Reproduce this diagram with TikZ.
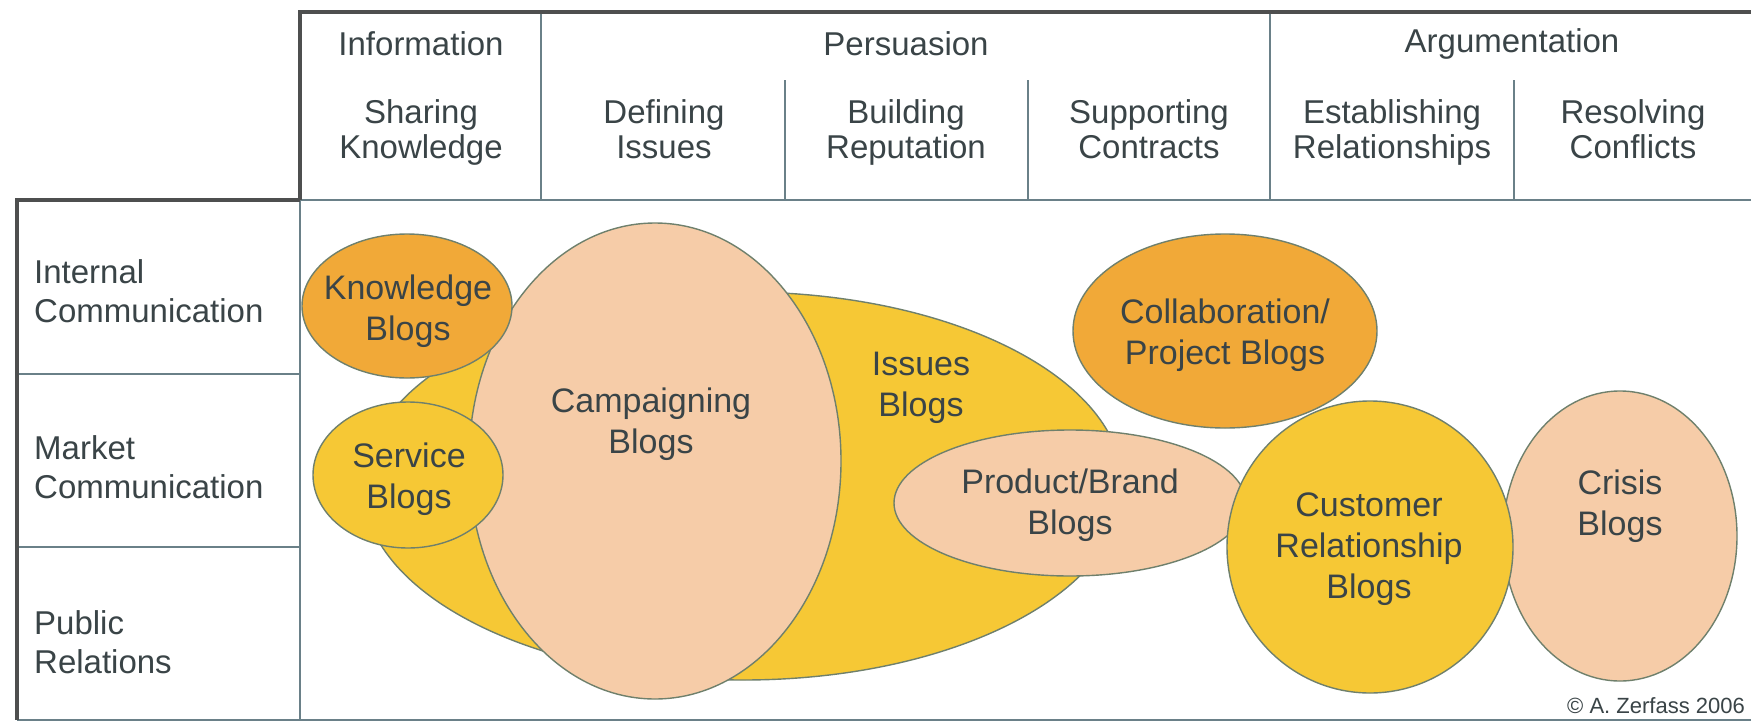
\documentclass[tikz,border=0pt]{standalone}
\usepackage{fontspec}
\setmainfont{Liberation Sans}
\usetikzlibrary{shapes.geometric}
\definecolor{txtc}{HTML}{3A4447}
\definecolor{thickc}{HTML}{4E4F4F}
\definecolor{thinc}{HTML}{6A8088}
\definecolor{yel}{HTML}{F6C835}
\definecolor{ora}{HTML}{F1A938}
\definecolor{pea}{HTML}{F6CCA8}
\definecolor{edgec}{HTML}{6F806C}
\tikzset{
  thickline/.style={draw=thickc, line width=3.2pt},
  thinline/.style={draw=thinc, line width=1.8pt},
  blob/.style={ellipse, draw=edgec, line width=1.4pt, inner sep=0pt},
  lbl/.style={text=txtc, font=\fontsize{34}{41}\selectfont, align=center, inner sep=0pt},
  hlbl/.style={lbl, font=\fontsize{33}{35}\selectfont},
  rowlbl/.style={lbl, font=\fontsize{33}{39}\selectfont, align=left, anchor=west},
}
\begin{document}
\begin{tikzpicture}[x=1pt,y=-1pt]
\useasboundingbox (0,0) rectangle (1751,723);
\fill[white] (0,0) rectangle (1751,723);
% grid coordinates
\coordinate (HTL) at (300,12);
\coordinate (HTR) at (1751,12);
\coordinate (HBL) at (300,200);
\coordinate (HBR) at (1751,200);
\coordinate (LTL) at (17,200);
\coordinate (LBL) at (17,720);
\coordinate (MBL) at (300,720);
\coordinate (MBR) at (1751,720);
% ellipses
\node[blob, fill=yel, minimum width=760pt, minimum height=388pt] (issues) at (743,486) {};
\node[blob, fill=pea, minimum width=372pt, minimum height=476pt] (camp) at (655,461) {};
\node[blob, fill=ora, minimum width=210pt, minimum height=144pt] (know) at (407,306) {};
\node[blob, fill=yel, minimum width=190pt, minimum height=146pt] (serv) at (408,475) {};
\node[blob, fill=pea, minimum width=352pt, minimum height=146pt] (prod) at (1070,503) {};
\node[blob, fill=pea, minimum width=234pt, minimum height=290pt] (crisis) at (1620,536) {};
\node[blob, fill=yel, minimum width=286pt, minimum height=292pt] (cust) at (1370,547) {};
\node[blob, fill=ora, minimum width=304pt, minimum height=194pt] (collab) at (1225,331) {};
% ellipse texts
\node[lbl] (tknow) at (408,311) {Knowledge\\Blogs};
\node[lbl] (tcamp) at (651,424) {Campaigning\\Blogs};
\node[lbl] (tserv) at (409,479) {Service\\Blogs};
\node[lbl] (tiss) at (921,388) {Issues\\Blogs};
\node[lbl] (tcoll) at (1225,335) {Collaboration/\\Project Blogs};
\node[lbl] (tprod) at (1070,505) {Product/Brand\\Blogs};
\node[lbl] (tcust) at (1369,549) {Customer\\Relationship\\Blogs};
\node[lbl] (tcris) at (1620,506) {Crisis\\Blogs};
% grid lines
\draw[thinline] (HBL) -- (HBR);
\draw[thinline] (HBL) -- (MBL);
\draw[thinline] (LBL) -- (MBR);
\draw[thinline] (17,374) -- (300,374);
\draw[thinline] (17,547) -- (300,547);
\draw[thinline] (541,12) -- (541,200);
\draw[thinline] (1270,12) -- (1270,200);
\draw[thinline] (785,80) -- (785,200);
\draw[thinline] (1028,80) -- (1028,200);
\draw[thinline] (1514,80) -- (1514,200);
\draw[thickline] (HTR) -- (HTL) -- (HBL);
\draw[thickline] (HBL) -- (LTL) -- (LBL);
% header texts
\node[hlbl] (hinfo) at (421,44) {Information};
\node[hlbl] (hpers) at (906,44) {Persuasion};
\node[hlbl] (harg) at (1512,44) {Argumentation};
\node[hlbl] (hshare) at (421,132) {Sharing\\Knowledge};
\node[hlbl] (hdef) at (664,129) {Defining\\Issues};
\node[hlbl] (hbuild) at (906,132) {Building\\Reputation};
\node[hlbl] (hsupp) at (1149,129) {Supporting\\Contracts};
\node[hlbl] (hest) at (1392,132) {Establishing\\Relationships};
\node[hlbl] (hres) at (1633,129) {Resolving\\Conflicts};
% row labels
\node[rowlbl] (rint) at (34,291) {Internal\\Communication};
\node[rowlbl] (rmar) at (34,467) {Market\\Communication};
\node[rowlbl] (rpub) at (34,642) {Public\\Relations};
% copyright
\node[text=txtc, font=\fontsize{22}{26}\selectfont, anchor=east, inner sep=0pt] (copy) at (1745,706) {© A. Zerfass 2006};
\end{tikzpicture}
\end{document}
